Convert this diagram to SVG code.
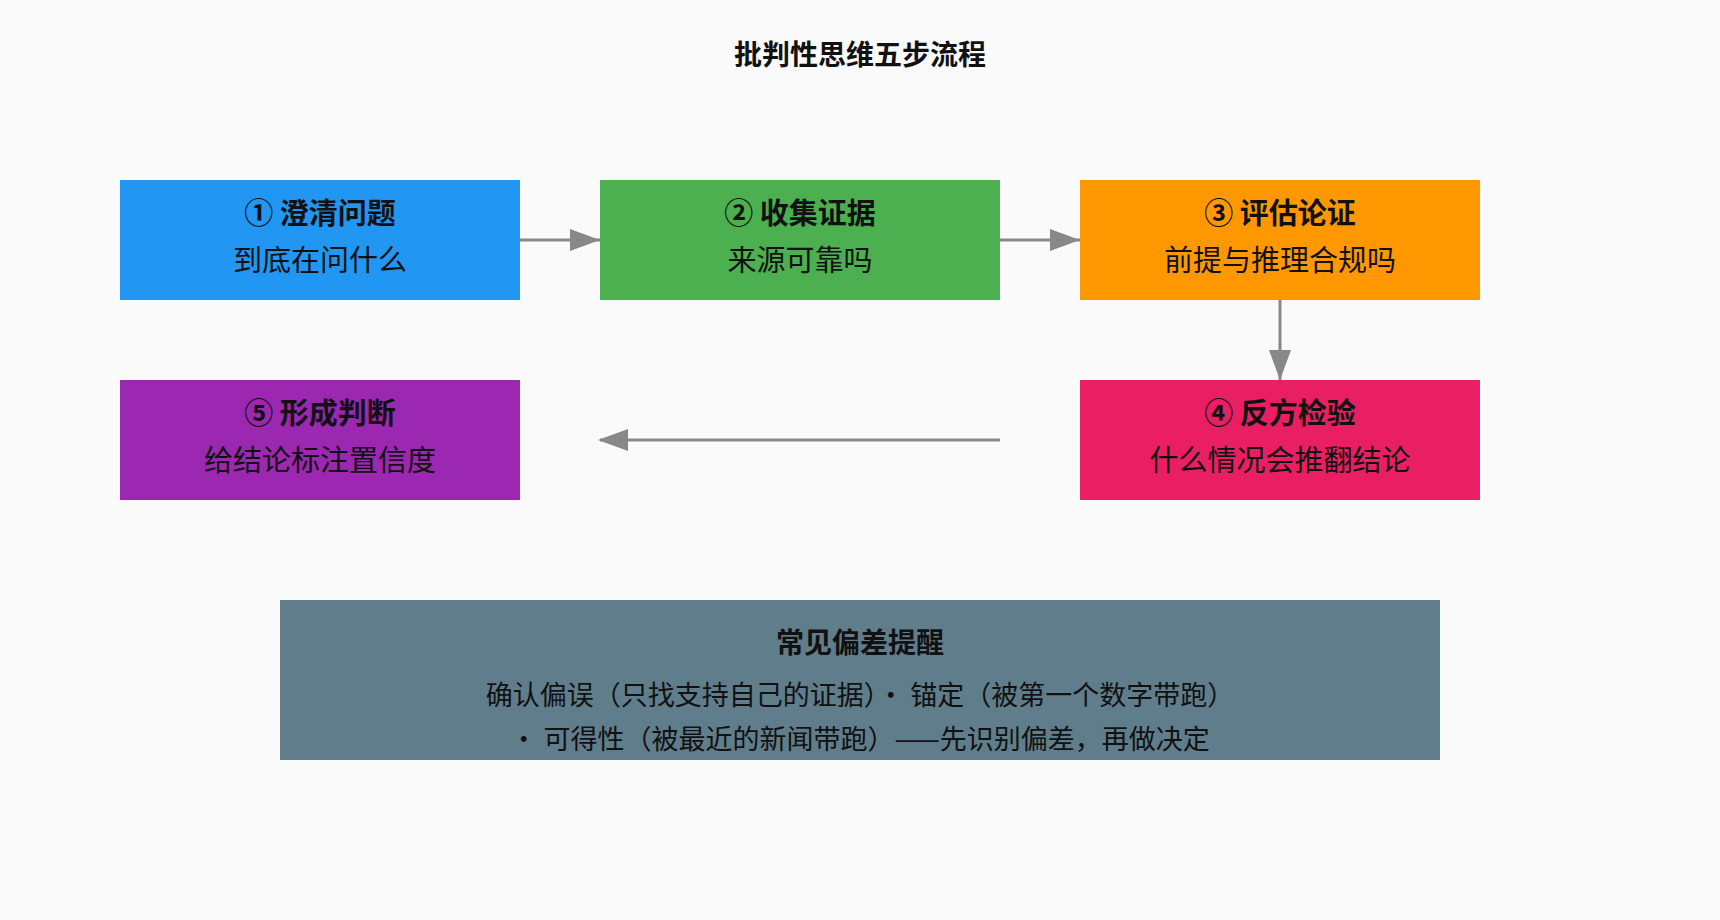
<svg xmlns="http://www.w3.org/2000/svg" width="1720" height="920" viewBox="0 0 1720 920">
<style>
text{font-family:"Noto Sans CJK SC","Noto Sans",sans-serif;text-anchor:middle;dominant-baseline:middle;fill:#111}
.t{font-size:29px;font-weight:bold}
.s{font-size:29px}
.b{font-size:27px}
.c{stroke:#888;stroke-width:3;fill:none;marker-end:url(#a)}
</style>
<defs><marker id="a" viewBox="0 0 10 10" refX="10" refY="5" markerWidth="10" markerHeight="7" markerUnits="userSpaceOnUse" orient="auto" preserveAspectRatio="none"><path d="M0,0L10,5L0,10z" fill="#888"/></marker>
<marker id="a" viewBox="0 0 10 10" refX="10" refY="5" markerWidth="32" markerHeight="22" markerUnits="userSpaceOnUse" orient="auto"/></defs>
<rect width="1720" height="920" fill="#fafafa"/>
<text x="860" y="57" class="t" style="font-size:28px">批判性思维五步流程</text>
<g id="connectors">
<path class="c" d="M520 240H600" style="marker-end:none"/><path d="M600 240l-30-11v22z" fill="#888"/>
<path class="c" d="M1000 240H1080" style="marker-end:none"/><path d="M1080 240l-30-11v22z" fill="#888"/>
<path class="c" d="M1280 300V380" style="marker-end:none"/><path d="M1280 380l-11-30h22z" fill="#888"/>
<path class="c" d="M1000 440H600" style="marker-end:none"/><path d="M598 440l30-11v22z" fill="#888"/>
</g>
<g id="n1"><rect x="120" y="180" width="400" height="120" fill="#2196F3"/><text x="320" y="216" class="t">① 澄清问题</text><text x="320" y="263" class="s">到底在问什么</text></g>
<g id="n2"><rect x="600" y="180" width="400" height="120" fill="#4CAF50"/><text x="800" y="216" class="t">② 收集证据</text><text x="800" y="263" class="s">来源可靠吗</text></g>
<g id="n3"><rect x="1080" y="180" width="400" height="120" fill="#FF9800"/><text x="1280" y="216" class="t">③ 评估论证</text><text x="1280" y="263" class="s">前提与推理合规吗</text></g>
<g id="n4"><rect x="1080" y="380" width="400" height="120" fill="#E91E63"/><text x="1280" y="416" class="t">④ 反方检验</text><text x="1280" y="463" class="s">什么情况会推翻结论</text></g>
<g id="n5"><rect x="120" y="380" width="400" height="120" fill="#9C27B0"/><text x="320" y="416" class="t">⑤ 形成判断</text><text x="320" y="463" class="s">给结论标注置信度</text></g>
<g id="note"><rect x="280" y="600" width="1160" height="160" fill="#607D8B"/><text x="860" y="645" class="t" style="font-size:28px">常见偏差提醒</text><text x="860" y="698" class="b">确认偏误（只找支持自己的证据）· 锚定（被第一个数字带跑）</text><text x="860" y="742" class="b">· 可得性（被最近的新闻带跑）——先识别偏差，再做决定</text></g>
</svg>
